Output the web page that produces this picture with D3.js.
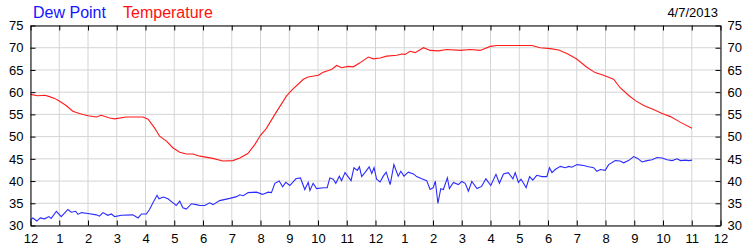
<!DOCTYPE html>
<html>
<head>
<meta charset="utf-8">
<script src="https://cdn.jsdelivr.net/npm/d3@7"></script>
<style>
  body { margin: 0; background: #fff; }
  svg { display: block; font-family: "Liberation Sans", Arial, sans-serif; }
</style>
</head>
<body>
<script>
var svgWidth = 750;
var svgHeight = 250;

// hour tick labels, midnight to midnight
var hourLabels = ["12","1","2","3","4","5","6","7","8","9","10","11",
                  "12","1","2","3","4","5","6","7","8","9","10","11","12"];
var valueTicks = [30, 35, 40, 45, 50, 55, 60, 65, 70, 75];
var chartDate = "4/7/2013";

// temperature readings (hour of day, degrees F)
var tempHours = [0,0.25,0.5,0.66,0.84,1.0,1.24,1.47,1.7,2.0,2.29,2.46,2.75,2.93,3.33,3.91,4.09,4.32,4.49,4.73,
  4.95,5.19,5.42,5.65,5.89,6.34,6.69,7.04,7.28,7.56,7.8,8.0,8.2,8.5,8.9,9.08,9.49,9.66,10.01,10.18,
  10.47,10.65,10.82,11.05,11.23,11.46,11.75,11.92,12.16,12.39,12.74,12.91,13.03,13.2,13.38,13.67,13.9,14.19,14.48,14.94,
  15.29,15.64,15.99,16.22,17.44,17.73,18.08,18.37,18.66,19.01,19.35,19.64,19.93,20.28,20.51,20.8,21.04,21.33,21.67,21.97,
  22.26,22.61,23.01];
var tempValues = [59.5,59.2,59.3,59.0,58.6,58.0,57.0,55.7,55.2,54.7,54.4,54.8,54.2,54.0,54.4,54.4,53.9,51.9,50.1,49.0,
  47.5,46.5,46.1,46.1,45.6,45.1,44.5,44.6,45.2,46.2,48.2,50.3,51.8,55.0,59.1,60.4,62.9,63.4,63.8,64.5,
  65.1,66.0,65.5,65.8,65.7,66.6,67.9,67.5,67.7,68.1,68.3,68.6,68.5,69.2,68.9,70.0,69.4,69.3,69.6,69.4,
  69.6,69.4,70.3,70.5,70.5,70.0,69.8,69.5,68.7,67.4,65.6,64.4,63.8,62.9,61.0,59.3,58.1,57.0,56.1,55.2,
  54.5,53.2,51.9];

// dew point readings (hour of day, degrees F)
var dewHours = [0,0.08,0.22,0.34,0.49,0.64,0.72,0.9,1.07,1.3,1.42,1.57,1.65,1.77,2.0,2.29,2.4,2.52,2.69,2.81,
  2.93,3.16,3.56,3.74,3.86,4.03,4.14,4.26,4.4,4.47,4.62,4.78,4.96,5.07,5.19,5.3,5.42,5.6,5.77,5.89,
  6.06,6.23,6.35,6.58,6.93,7.17,7.28,7.4,7.57,7.86,8.07,8.27,8.38,8.5,8.65,8.77,8.88,9.02,9.23,9.39,
  9.54,9.66,9.72,9.83,9.95,10.18,10.32,10.41,10.53,10.62,10.74,10.82,10.94,11.15,11.25,11.37,11.44,11.52,11.63,11.78,
  11.87,11.95,12.04,12.16,12.27,12.37,12.51,12.64,12.79,12.88,12.99,13.14,13.32,13.43,13.61,13.78,13.9,14.01,14.08,14.17,
  14.27,14.36,14.5,14.57,14.71,14.88,15.0,15.12,15.23,15.35,15.53,15.69,15.84,16.01,16.19,16.31,16.45,16.62,16.78,16.86,
  16.97,17.06,17.15,17.24,17.36,17.47,17.61,17.79,17.96,18.05,18.14,18.25,18.43,18.6,18.72,18.83,19.01,19.24,19.41,19.59,
  19.7,19.82,19.99,20.11,20.34,20.51,20.63,20.8,20.98,21.12,21.27,21.44,21.62,21.79,21.97,22.14,22.32,22.49,22.61,22.78,
  22.9,23.01];
var dewValues = [31.2,31.7,31.0,31.7,31.5,32.0,31.6,33.2,32.0,33.6,33.0,33.2,32.5,32.9,32.7,32.4,32.1,32.9,32.3,32.6,
  32.0,32.3,32.4,31.7,32.6,32.6,33.6,35.1,36.8,36.0,36.4,36.0,35.1,34.5,35.5,34.0,33.7,34.9,34.7,34.5,
  34.5,35.1,34.7,35.6,36.1,36.5,36.9,36.7,37.4,37.5,37.0,37.5,37.4,39.5,40.0,38.7,39.7,39.0,40.5,40.7,
  38.1,39.7,37.9,39.5,38.3,38.5,38.5,40.7,40.4,39.5,41.1,40.1,41.9,40.1,43.0,42.4,43.2,41.0,41.9,43.2,
  41.7,43.0,40.4,39.8,41.1,42.0,39.2,43.7,41.1,42.2,41.1,42.0,41.6,41.0,40.5,40.1,38.1,38.5,40.0,35.0,
  38.3,38.1,40.7,38.3,39.7,39.2,39.9,39.5,37.7,39.9,38.3,38.8,40.5,39.0,41.5,39.5,41.6,41.9,40.5,41.9,
  39.7,40.4,39.5,38.5,41.0,40.2,41.3,41.0,41.0,43.0,41.9,42.6,43.3,43.0,43.3,43.1,43.7,43.5,43.2,43.0,
  42.2,42.6,42.4,43.7,44.6,44.5,44.1,44.6,45.5,45.1,44.3,44.6,44.8,45.3,45.2,44.8,44.6,45.0,44.6,44.7,
  44.6,44.7];

var svg = d3.select("body").append("svg")
  .attr("width", svgWidth)
  .attr("height", svgHeight);

var x = d3.scaleLinear().domain([0, 24]).range([30.5, 720.5]);
var y = d3.scaleLinear().domain([30, 75]).range([225.5, 25.5]);
var hourTicks = d3.range(0, 25);

// grid
var grid = svg.append("g").attr("stroke", "#d4d4d4").attr("stroke-width", 1);
grid.selectAll(".vg").data(hourTicks).enter().append("line")
  .attr("x1", d => x(d)).attr("x2", d => x(d))
  .attr("y1", y(75)).attr("y2", y(30));
grid.selectAll(".hg").data(valueTicks).enter().append("line")
  .attr("x1", x(0)).attr("x2", x(24))
  .attr("y1", d => y(d)).attr("y2", d => y(d));

// series
var line = d3.line()
  .x(d => x(d[0]))
  .y(d => y(d[1]));

svg.append("path")
  .datum(dewHours.map((h, i) => [h, dewValues[i]]))
  .attr("fill", "none")
  .attr("stroke", "#2b2bff")
  .attr("stroke-width", 1.1)
  .attr("d", line);

svg.append("path")
  .datum(tempHours.map((h, i) => [h, tempValues[i]]))
  .attr("fill", "none")
  .attr("stroke", "#ff1a1a")
  .attr("stroke-width", 1.1)
  .attr("d", line);

// axes
function styleAxis(g) {
  g.select(".domain").attr("stroke", "#000");
  g.selectAll(".tick line").attr("stroke", "#000");
  g.selectAll("text").attr("font-size", 13).attr("fill", "#000");
}

svg.append("g")
  .attr("transform", `translate(0,${y(30)})`)
  .call(d3.axisBottom(x).tickValues(hourTicks)
    .tickFormat((d, i) => hourLabels[i])
    .tickSizeInner(-5).tickSizeOuter(0).tickPadding(8))
  .call(styleAxis);

svg.append("g")
  .attr("transform", `translate(0,${y(75)})`)
  .call(d3.axisTop(x).tickValues(hourTicks).tickFormat("")
    .tickSizeInner(-5).tickSizeOuter(0))
  .call(styleAxis);

svg.append("g")
  .attr("transform", `translate(${x(0)},0)`)
  .call(d3.axisLeft(y).tickValues(valueTicks)
    .tickSizeInner(-5).tickSizeOuter(0).tickPadding(7))
  .call(styleAxis);

svg.append("g")
  .attr("transform", `translate(${x(24)},0)`)
  .call(d3.axisRight(y).tickValues(valueTicks)
    .tickSizeInner(-5).tickSizeOuter(0).tickPadding(7))
  .call(styleAxis);

// legend + date
svg.append("text").attr("x", 33).attr("y", 18)
  .attr("font-size", 16).attr("fill", "#1515ff").text("Dew Point");
svg.append("text").attr("x", 123).attr("y", 18)
  .attr("font-size", 16).attr("fill", "#ff1010").text("Temperature");
svg.append("text").attr("x", 718).attr("y", 17)
  .attr("text-anchor", "end").attr("font-size", 13).attr("fill", "#000")
  .text(chartDate);
</script>
</body>
</html>
